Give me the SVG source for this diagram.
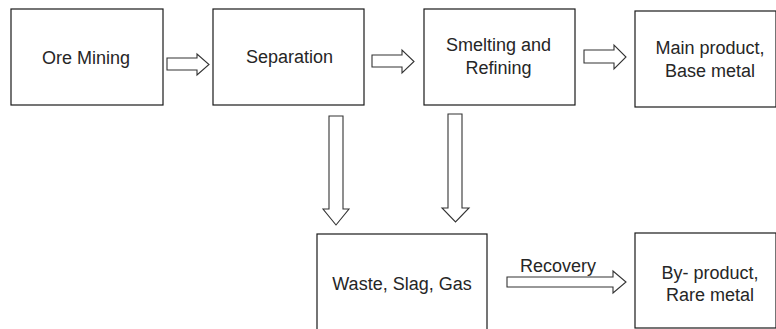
<svg xmlns="http://www.w3.org/2000/svg" width="776" height="329" viewBox="0 0 776 329">
<style>
.box{fill:#fff;stroke:#1a1a1a;stroke-width:1.2}
.arr{fill:#fff;stroke:#333;stroke-width:1.1;stroke-linejoin:miter}
text{font-family:"Liberation Sans",Arial,sans-serif;font-size:18px;fill:#262626;text-anchor:middle}
</style>
<rect width="776" height="329" fill="#fff"/>
<g id="connectors">
<polygon class="arr" points="167,58 197,58 197,54 209,64.5 197,75 197,70 167,70"/>
<polygon class="arr" points="372,55 402,55 402,50 414,61.5 402,73 402,67 372,67"/>
<polygon class="arr" points="584,50 614,50 614,45 626,57 614,69 614,63 584,63"/>
<polygon class="arr" points="329,116 343,116 343,209 349,209 336,225 323,209 329,209"/>
<polygon class="arr" points="448,114 462,114 462,208 469,208 455.5,222 442,208 448,208"/>
<polygon class="arr" points="507,277 613,277 613,271 626,282 613,293 613,287 507,287"/>
<text x="558" y="272">Recovery</text>
</g>
<g id="ore-mining">
<rect class="box" x="11" y="9" width="152" height="96"/>
<text x="86" y="64">Ore Mining</text>
</g>
<g id="separation">
<rect class="box" x="213" y="9" width="151" height="96"/>
<text x="289.5" y="63">Separation</text>
</g>
<g id="smelting">
<rect class="box" x="424" y="9" width="151" height="96"/>
<text x="498.5" y="51">Smelting and</text>
<text x="498.5" y="74">Refining</text>
</g>
<g id="main-product">
<rect class="box" x="635" y="11" width="141" height="96"/>
<text x="710" y="54">Main product,</text>
<text x="710" y="77">Base metal</text>
</g>
<g id="waste">
<rect class="box" x="317" y="234" width="170" height="100"/>
<text x="402" y="290">Waste, Slag, Gas</text>
</g>
<g id="by-product">
<rect class="box" x="635" y="233" width="141" height="95"/>
<text x="710" y="279">By- product,</text>
<text x="710" y="301">Rare metal</text>
</g>
</svg>
